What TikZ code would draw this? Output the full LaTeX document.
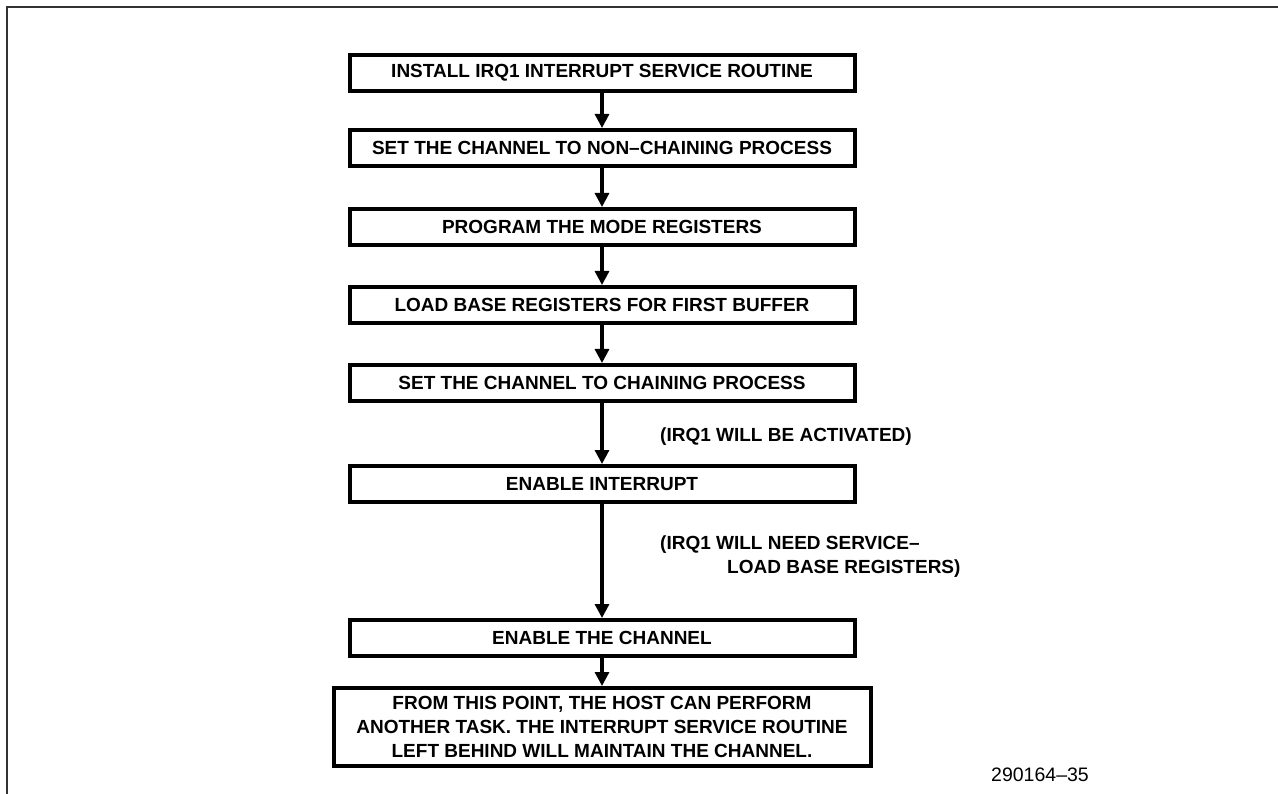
\documentclass[tikz,border=0pt]{standalone}
\usepackage{fontspec}
\setmainfont{Liberation Sans}
\usetikzlibrary{arrows.meta}
\begin{document}
\begin{tikzpicture}[x=1pt,y=-1pt,
  stepbox/.style={draw=black, line width=4pt, fill=white, inner sep=0pt,
    minimum width=505pt, minimum height=36pt,
    font=\bfseries\fontsize{19}{24}\selectfont, align=center},
  arr/.style={line width=3.2pt, -{Triangle[length=14pt,width=14pt]}},
  note/.style={font=\bfseries\fontsize{19}{24}\selectfont, anchor=west, inner sep=0pt, align=left},
  frameline/.style={line width=2pt, draw=black!80}]
\useasboundingbox (0,0) rectangle (1278,794);
\fill[white] (0,0) rectangle (1278,794);
\draw[frameline] (7,794) -- (7,7) -- (1278,7);

\node[stepbox] (b1) at (602,73) {INSTALL IRQ1 INTERRUPT SERVICE ROUTINE};
\node[stepbox] (b2) at (602,148) {SET THE CHANNEL TO NON–CHAINING PROCESS};
\node[stepbox] (b3) at (602,227) {PROGRAM THE MODE REGISTERS};
\node[stepbox] (b4) at (602,305) {LOAD BASE REGISTERS FOR FIRST BUFFER};
\node[stepbox] (b5) at (602,383) {SET THE CHANNEL TO CHAINING PROCESS};
\node[stepbox] (b6) at (602,484) {ENABLE INTERRUPT};
\node[stepbox] (b7) at (602,638) {ENABLE THE CHANNEL};
\node[stepbox, minimum width=537pt, minimum height=78pt] (b8) at (602,727)
  {FROM THIS POINT, THE HOST CAN PERFORM\\ANOTHER TASK. THE INTERRUPT SERVICE ROUTINE\\LEFT BEHIND WILL MAINTAIN THE CHANNEL.};

\draw[arr] (b1.south) -- (b2.north);
\draw[arr] (b2.south) -- (b3.north);
\draw[arr] (b3.south) -- (b4.north);
\draw[arr] (b4.south) -- (b5.north);
\draw[arr] (b5.south) -- (b6.north);
\draw[arr] (b6.south) -- (b7.north);
\draw[arr] (b7.south) -- (b8.north);

\node[note] (n1) at (660,437) {(IRQ1 WILL BE ACTIVATED)};
\node[note] (n2) at (660,557) {(IRQ1 WILL NEED SERVICE–\\\hspace*{67pt}LOAD BASE REGISTERS)};

\node[font=\fontsize{19.5}{24}\selectfont, inner sep=0pt] (id) at (1040,775) {290164–35};
\end{tikzpicture}
\end{document}
